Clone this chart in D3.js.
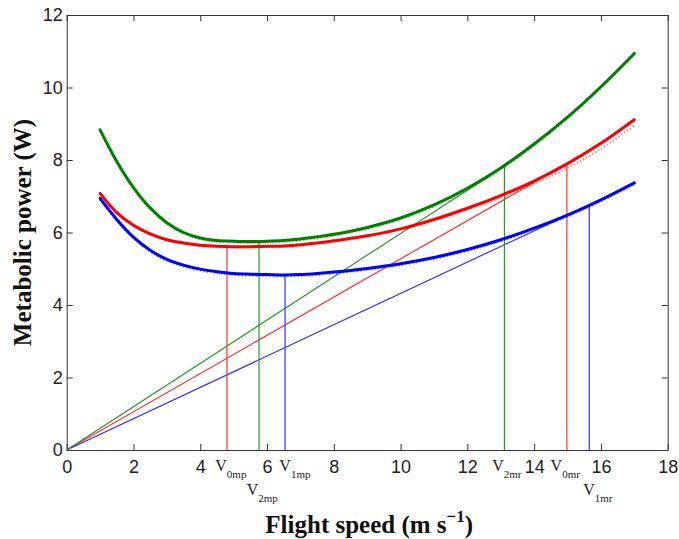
<!DOCTYPE html>
<html>
<head>
<meta charset="utf-8">
<script src="https://cdn.jsdelivr.net/npm/d3@7"></script>
<style>
  html, body { margin: 0; padding: 0; background: #fff; }
  svg { display: block; }
</style>
</head>
<body>
<script>
const width = 679
const height = 539
const margin = { top: 15, right: 11.3, bottom: 89, left: 66.7 }

// flight speed samples (m/s)
const speeds = [1, 1.5, 2, 2.5, 3, 3.5, 4, 4.5, 5, 5.5, 6, 6.5, 7, 7.5, 8, 9, 10, 11, 12, 13, 14, 15, 16, 17]
// metabolic power, thick curves
const greenPower = [8.83, 7.96, 7.24, 6.68, 6.27, 6.00, 5.85, 5.78, 5.76, 5.75, 5.76, 5.78, 5.82, 5.88, 5.95, 6.14, 6.40, 6.76, 7.22, 7.78, 8.44, 9.18, 10.02, 10.94]
const redPower = [7.08, 6.55, 6.20, 5.96, 5.80, 5.71, 5.65, 5.62, 5.61, 5.61, 5.62, 5.63, 5.66, 5.71, 5.77, 5.91, 6.10, 6.36, 6.67, 7.02, 7.42, 7.90, 8.46, 9.11]
const bluePower = [6.94, 6.36, 5.87, 5.51, 5.26, 5.10, 4.99, 4.92, 4.87, 4.85, 4.84, 4.83, 4.84, 4.87, 4.91, 5.01, 5.14, 5.31, 5.53, 5.80, 6.12, 6.48, 6.90, 7.37]
// dotted fits
const greenFit = [8.79, 7.92, 7.20, 6.64, 6.23, 5.96, 5.81, 5.74, 5.72, 5.71, 5.72, 5.74, 5.78, 5.84, 5.91, 6.10, 6.36, 6.72, 7.18, 7.74, 8.40, 9.14, 9.98, 10.90]
const redFit = [7.06, 6.53, 6.18, 5.94, 5.78, 5.69, 5.63, 5.60, 5.59, 5.59, 5.60, 5.61, 5.64, 5.69, 5.75, 5.89, 6.08, 6.33, 6.63, 6.96, 7.34, 7.78, 8.31, 8.95]
const blueFit = [6.90, 6.32, 5.83, 5.47, 5.22, 5.06, 4.95, 4.88, 4.83, 4.81, 4.80, 4.79, 4.80, 4.83, 4.87, 4.97, 5.10, 5.27, 5.49, 5.76, 6.08, 6.44, 6.86, 7.33]

// characteristic speeds: order red (0), blue (1), green (2)
const seriesIds = ['0', '1', '2']
const mpSpeeds = [4.80, 6.54, 5.76]
const mpPowers = [5.61, 4.83, 5.75]
const mrSpeeds = [14.98, 15.65, 13.11]
const mrPowers = [7.90, 6.76, 7.83]

const xTicks = [0, 2, 4, 6, 8, 10, 12, 14, 16, 18]
const yTicks = [0, 2, 4, 6, 8, 10, 12]

const colors = ['#ff0000', '#0000ff', '#008000']
const thinColors = ['#ff3030', '#3030ff', '#2a962a']

// label placement: offset from line and row under the axis
const mpLabelLayout = [{ dx: -11.7, row: 0 }, { dx: -5.7, row: 0 }, { dx: -12.3, row: 1 }]
const mrLabelLayout = [{ dx: -16.3, row: 0 }, { dx: -6, row: 1 }, { dx: -12.3, row: 0 }]

const curves = [
  { power: redPower, fit: redFit, color: colors[0] },
  { power: bluePower, fit: blueFit, color: colors[1] },
  { power: greenPower, fit: greenFit, color: colors[2] }
]

const innerW = width - margin.left - margin.right
const innerH = height - margin.top - margin.bottom

const x = d3.scaleLinear().domain([0, 18]).range([0, innerW])
const y = d3.scaleLinear().domain([0, 12]).range([innerH, 0])

const svg = d3.select('body')
  .append('svg')
  .attr('width', width)
  .attr('height', height)

const g = svg.append('g')
  .attr('transform', `translate(${margin.left},${margin.top})`)

// axes (ticks point inward, box on)
const styleAxis = function (sel) {
  sel.selectAll('path, line').attr('stroke', '#333').attr('stroke-width', 1)
  sel.selectAll('text')
    .attr('fill', '#222')
    .attr('font-family', '"Liberation Sans", Arial, sans-serif')
    .attr('font-size', '18px')
}

g.append('g')
  .attr('transform', `translate(0,${innerH})`)
  .call(d3.axisBottom(x).tickValues(xTicks).tickSize(-6).tickSizeOuter(0).tickPadding(10))
  .call(styleAxis)

g.append('g')
  .call(d3.axisLeft(y).tickValues(yTicks).tickSize(-6).tickSizeOuter(0).tickPadding(4))
  .call(styleAxis)

g.append('g')
  .call(d3.axisTop(x).tickValues(xTicks).tickSize(-6).tickSizeOuter(0).tickFormat(''))
  .call(styleAxis)

g.append('g')
  .attr('transform', `translate(${innerW},0)`)
  .call(d3.axisRight(y).tickValues(yTicks).tickSize(-6).tickSizeOuter(0).tickFormat(''))
  .call(styleAxis)

// tangent lines from the origin to the max-range points
g.selectAll('line.tangent')
  .data(seriesIds)
  .enter()
  .append('line')
  .attr('class', 'tangent')
  .attr('x1', x(0))
  .attr('y1', y(0))
  .attr('x2', function (d, i) { return x(mrSpeeds[i]) })
  .attr('y2', function (d, i) { return y(mrPowers[i]) })
  .attr('stroke', function (d, i) { return thinColors[i] })
  .attr('stroke-width', 1.2)

// vertical drop lines
const drops = []
seriesIds.forEach(function (id, i) {
  drops.push({ id: id, kind: 'mp', v: mpSpeeds[i], p: mpPowers[i], color: thinColors[i], layout: mpLabelLayout[i] })
  drops.push({ id: id, kind: 'mr', v: mrSpeeds[i], p: mrPowers[i], color: thinColors[i], layout: mrLabelLayout[i] })
})

g.selectAll('line.drop')
  .data(drops)
  .enter()
  .append('line')
  .attr('class', 'drop')
  .attr('x1', function (d) { return x(d.v) })
  .attr('x2', function (d) { return x(d.v) })
  .attr('y1', y(0))
  .attr('y2', function (d) { return y(d.p) })
  .attr('stroke', function (d) { return d.color })
  .attr('stroke-width', 1.2)

// power curves
const line = d3.line()
  .x(function (d) { return x(d[0]) })
  .y(function (d) { return y(d[1]) })
  .curve(d3.curveCatmullRom)

curves.forEach(function (c) {
  g.append('path')
    .datum(speeds.map(function (s, i) { return [s, c.power[i]] }))
    .attr('d', line)
    .attr('fill', 'none')
    .attr('stroke', c.color)
    .attr('stroke-width', 3)
    .attr('stroke-linecap', 'round')
})

curves.forEach(function (c) {
  g.append('path')
    .datum(speeds.map(function (s, i) { return [s, c.fit[i]] }))
    .attr('d', line)
    .attr('fill', 'none')
    .attr('stroke', c.color)
    .attr('stroke-opacity', 0.55)
    .attr('stroke-width', 2)
    .attr('stroke-dasharray', '1.2,2.3')
})

// V labels under the x axis
const rowBase = [margin.top + innerH + 21, margin.top + innerH + 45]
const vLabels = svg.selectAll('text.vlabel')
  .data(drops)
  .enter()
  .append('text')
  .attr('class', 'vlabel')
  .attr('x', function (d) { return margin.left + x(d.v) + d.layout.dx })
  .attr('y', function (d) { return rowBase[d.layout.row] })
  .attr('font-family', '"Liberation Serif", "Times New Roman", serif')
  .attr('font-size', '16px')
  .attr('fill', '#222')

vLabels.append('tspan').text('V')
vLabels.append('tspan')
  .attr('dy', 7)
  .attr('font-size', '11px')
  .text(function (d) { return d.id + d.kind })

// axis titles
svg.append('text')
  .attr('x', margin.left + innerW / 2 + 2)
  .attr('y', 533)
  .attr('text-anchor', 'middle')
  .attr('font-family', '"Liberation Serif", "Times New Roman", serif')
  .attr('font-weight', 'bold')
  .attr('font-size', '25px')
  .attr('fill', '#111')
  .call(function (t) {
    t.append('tspan').text('Flight speed (m s')
    t.append('tspan').attr('dy', -11).attr('font-size', '17px').text('\u22121')
    t.append('tspan').attr('dy', 11).text(')')
  })

svg.append('text')
  .attr('transform', `translate(31,${margin.top + innerH / 2}) rotate(-90)`)
  .attr('text-anchor', 'middle')
  .attr('font-family', '"Liberation Serif", "Times New Roman", serif')
  .attr('font-weight', 'bold')
  .attr('font-size', '25px')
  .attr('fill', '#111')
  .text('Metabolic power (W)')
</script>
</body>
</html>
